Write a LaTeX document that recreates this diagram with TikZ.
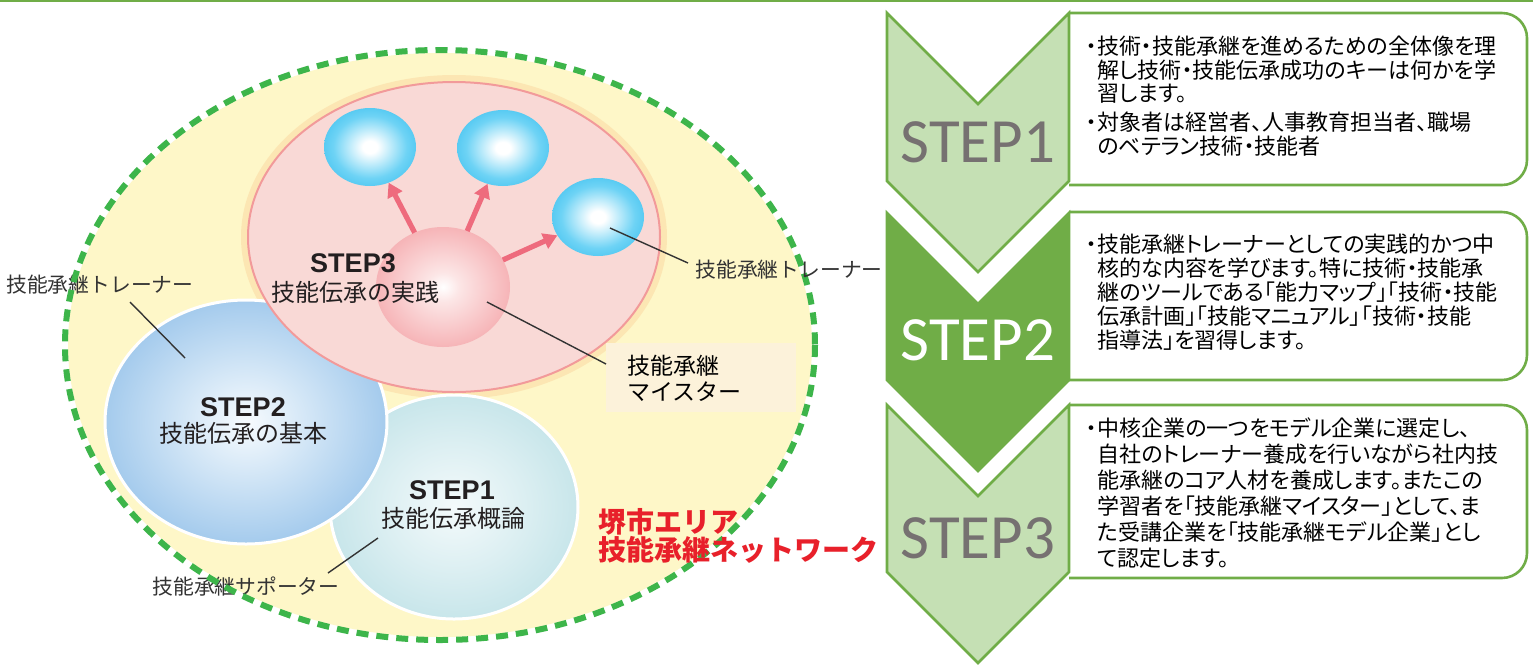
\documentclass[tikz,border=0pt]{standalone}
\usepackage{fontspec}
\setmainfont{Noto Sans CJK JP}
\newfontfamily\jpp[RawFeature={+palt}]{Noto Sans CJK JP}
\newfontfamily\calfont{Carlito}
\newfontfamily\arialfont{Liberation Sans}
\usetikzlibrary{shapes.geometric,arrows.meta}

\definecolor{grn}{HTML}{70AD47}
\definecolor{lgrn}{HTML}{C5E0B4}
\definecolor{stepgray}{HTML}{767171}
\definecolor{dashgrn}{HTML}{3DB54A}
\definecolor{yel}{HTML}{FEF7C8}
\definecolor{pinkbg}{HTML}{F9D9D6}
\definecolor{pinkedge}{HTML}{F29A9A}
\definecolor{halo}{HTML}{FAD39A}
\definecolor{arrowpink}{HTML}{EE6B7D}
\definecolor{txt}{HTML}{231F20}
\definecolor{lbl}{HTML}{333333}
\definecolor{redtxt}{HTML}{E8202A}
\definecolor{beige}{HTML}{FCF2DA}
\definecolor{cyA}{HTML}{6ED3F5}
\definecolor{cyB}{HTML}{19B2EA}
\definecolor{cyC}{HTML}{0FA6E0}
\definecolor{pkA}{HTML}{FCE6E6}
\definecolor{pkB}{HTML}{F4A2A6}
\definecolor{pkC}{HTML}{EE7F87}
\definecolor{blA}{HTML}{F7FBFE}
\definecolor{blB}{HTML}{D6E8F7}
\definecolor{blC}{HTML}{8DBDE8}
\definecolor{blD}{HTML}{5A9BD7}
\definecolor{tlA}{HTML}{F4FAFB}
\definecolor{tlB}{HTML}{DCEFF2}
\definecolor{tlC}{HTML}{B0DBE1}
\definecolor{tlD}{HTML}{95CCD5}

\pgfdeclareradialshading{cyanball}{\pgfpoint{0bp}{0bp}}{color(0bp)=(white); color(4bp)=(white); color(20bp)=(cyA); color(40bp)=(cyB); color(50bp)=(cyC)}
\pgfdeclareradialshading{pinkball}{\pgfpoint{0bp}{0bp}}{color(0bp)=(white); color(6bp)=(pkA); color(32bp)=(pkB); color(50bp)=(pkC)}
\pgfdeclareradialshading{blueball}{\pgfpoint{0bp}{0bp}}{color(0bp)=(blA); color(10bp)=(blB); color(32bp)=(blC); color(50bp)=(blD)}
\pgfdeclareradialshading{tealball}{\pgfpoint{0bp}{0bp}}{color(0bp)=(tlA); color(14bp)=(tlB); color(38bp)=(tlC); color(50bp)=(tlD)}

\begin{document}
\begin{tikzpicture}[x=0.5pt,y=-0.5pt,
  ell/.style={ellipse, inner sep=0pt, outer sep=0pt},
  lblline/.style={draw=lbl, line width=0.7pt},
  sidelbl/.style={text=lbl, font=\fontsize{10.4pt}{12pt}\selectfont, inner sep=0pt},
  circtitle/.style={text=txt, font=\arialfont\bfseries\fontsize{13.5pt}{14pt}\selectfont, inner sep=0pt},
  circsub/.style={text=txt, font=\fontsize{12pt}{13pt}\selectfont, inner sep=0pt},
  pinkarrow/.style={draw=arrowpink, line width=2.6pt, -{Triangle[length=7pt,width=8pt]}},
  chevstep/.style={font=\calfont\fontsize{31.5pt}{32pt}\selectfont, inner sep=0pt},
  boxtext/.style={align=left, anchor=north west, inner sep=0pt, text=black},
  rbox/.style={draw=grn, line width=1.3pt, fill=white, rounded corners=12.5pt},
  chevlight/.style={draw=grn, line width=1.3pt, fill=lgrn, line join=miter},
  chevdark/.style={draw=grn, line width=1.3pt, fill=grn, line join=miter},
  nettitle/.style={anchor=west, align=left, inner sep=0pt, text=redtxt, font=\bfseries\fontsize{14pt}{14pt}\selectfont},
  ]
\useasboundingbox (0,0) rectangle (1533,666);
\fill[white] (0,0) rectangle (1533,666);
\draw[grn, line width=1.2pt] (0,1) -- (1533,1);

% network area
\fill[yel] (440,345) ellipse [x radius=372, y radius=292];
\draw[halo, line width=5pt, opacity=0.45] (454,237) ellipse [x radius=208, y radius=157];

% STEP1 and STEP2 circles
\node[ell, shading=tealball, draw=white, line width=1.5pt, minimum width=124pt, minimum height=112pt] (s1) at (454,507) {};
\node[ell, shading=blueball, draw=white, line width=1.5pt, minimum width=141pt, minimum height=122pt] (s2) at (246,422) {};

% STEP3 area
\node[ell, fill=pinkbg, draw=pinkedge, line width=1pt, minimum width=206pt, minimum height=155pt] (s3) at (454,237) {};

\node[ell, shading=cyanball, minimum width=46pt, minimum height=39pt] (c1) at (370,147) {};
\node[ell, shading=cyanball, minimum width=46pt, minimum height=38pt] (c2) at (503,148) {};
\node[ell, shading=cyanball, minimum width=46pt, minimum height=39pt] (c3) at (598,217) {};
\node[ell, shading=pinkball, minimum width=67pt, minimum height=60pt] (m) at (443,287) {};

\draw[pinkarrow] (m) -- (c1);
\draw[pinkarrow] (m) -- (c2);
\draw[pinkarrow] (m) -- (c3);

% circle titles
\node[circtitle] (t3a) at (353,263) {STEP3};
\node[circsub] (t3b) at (355,292) {技能伝承の実践};
\node[circtitle] (t2a) at (243,407) {STEP2};
\node[circsub] (t2b) at (243,433) {技能伝承の基本};
\node[circtitle] (t1a) at (452,490) {STEP1};
\node[circsub] (t1b) at (453,518) {技能伝承概論};

% labels
\node[sidelbl] (lblL) at (100,285) {技能承継トレーナー};
\coordinate (lblLa) at (130,302);
\coordinate (lblLb) at (185,358);
\draw[lblline] (lblLa) -- (lblLb);

\coordinate (lblRa) at (610,228);
\coordinate (lblRb) at (688,263);
\draw[lblline] (lblRa) -- (lblRb);

\node[sidelbl] (lblS) at (246,587) {技能承継サポーター};
\coordinate (lblSa) at (328,573);
\coordinate (lblSb) at (378,538);
\draw[lblline] (lblSa) -- (lblSb);

\node[fill=beige, anchor=north west, minimum width=95pt, minimum height=34.5pt, inner xsep=10.5pt, inner ysep=0pt, text width=74pt, align=left, text=black, font=\fontsize{11.5pt}{13pt}\selectfont] (mb) at (606,343) {技能承継\\マイスター};
\coordinate (mba) at (487,302);
\coordinate (mbb) at (606,364);
\draw[lblline] (mba) -- (mbb);

% dashed boundary
\draw[dashgrn, line width=3pt, dash pattern=on 6pt off 4pt] (440,345) ellipse [x radius=375, y radius=295];

% texts over the boundary
\node[sidelbl] (lblR) at (789,270) {技能承継トレーナー};
\node[nettitle] (net) at (598,536) {堺市エリア\\技能承継ネットワーク};

% right side: boxes
\draw[rbox] (1069,13) -- (1527,13) -- (1527,185) -- (1069,185);
\draw[rbox] (1069,212) -- (1527,212) -- (1527,380) -- (1069,380);
\draw[rbox] (1069,405) -- (1527,405) -- (1527,578) -- (1069,578);

% chevrons
\draw[chevlight] (887,13) -- (978,104) -- (1069,13) -- (1069,181) -- (978,272) -- (887,181) -- cycle;
\draw[chevdark] (887,213) -- (978,304) -- (1069,213) -- (1069,380) -- (978,471) -- (887,380) -- cycle;
\draw[chevlight] (887,405) -- (978,496) -- (1069,405) -- (1069,572) -- (978,663) -- (887,572) -- cycle;

\node[chevstep, text=stepgray] (st1) at (978,142) {STEP1};
\node[chevstep, text=white] (st2) at (978,340) {STEP2};
\node[chevstep, text=stepgray] (st3) at (978,538) {STEP3};

\node[boxtext, font=\jpp\fontsize{11pt}{11.75pt}\selectfont] (b1) at (1097,36) {\llap{・}技術・技能承継を進めるための全体像を理\\解し技術・技能伝承成功のキーは何かを学\\習します。\\[2.75pt]\llap{・}対象者は経営者、人事教育担当者、職場\\のベテラン技術・技能者};
\node[boxtext, font=\jpp\fontsize{11pt}{12pt}\selectfont] (b2) at (1097,234) {\llap{・}技能承継トレーナーとしての実践的かつ中\\核的な内容を学びます。特に技術・技能承\\継のツールである「能力マップ」「技術・技能\\伝承計画」「技能マニュアル」「技術・技能\\指導法」を習得します。};
\node[boxtext, font=\jpp\fontsize{11pt}{13pt}\selectfont] (b3) at (1097,417) {\llap{・}中核企業の一つをモデル企業に選定し、\\自社のトレーナー養成を行いながら社内技\\能承継のコア人材を養成します。またこの\\学習者を「技能承継マイスター」として、ま\\た受講企業を「技能承継モデル企業」とし\\て認定します。};
\end{tikzpicture}
\end{document}
